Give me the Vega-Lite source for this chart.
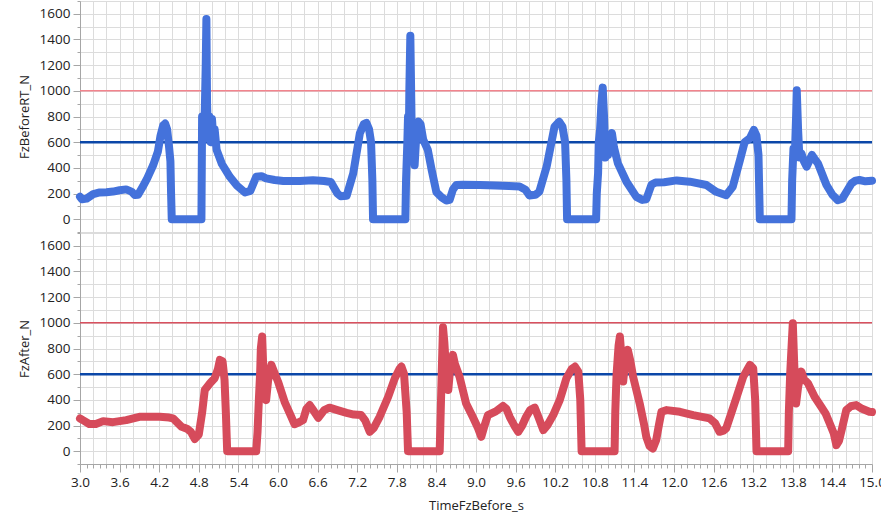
{
  "$schema": "https://vega.github.io/schema/vega-lite/v6.json",
  "padding": {"left": 18, "top": 0, "right": 0, "bottom": 3},
  "background": "white",
  "spacing": -1,
  "config": {
    "view": {"stroke": null},
    "font": "Open Sans",
    "axis": {
      "labelFont": "Open Sans",
      "labelFontSize": 13.5,
      "labelColor": "#222222",
      "titleFont": "Open Sans",
      "titleFontSize": 13,
      "titleFontWeight": "normal",
      "titleColor": "#222222",
      "gridColor": "#dcdcdc",
      "gridWidth": 1,
      "domainColor": "#a6a6a6",
      "tickColor": "#a6a6a6"
    },
    "axisY": {
      "format": "d",
      "labelExpr": "datum.value % 200 === 0 && datum.value >= 0 && datum.value <= 1600 ? datum.label : ''",
      "labelPadding": 3,
      "titlePadding": 6.5,
      "minExtent": 42,
      "maxExtent": 42,
      "labelOverlap": false,
      "labelFlush": false
    },
    "axisX": {
      "labelExpr": "round(datum.value*10) % 6 === 0 ? format(datum.value, '.1f') : ''",
      "labelPadding": 3,
      "titlePadding": 11,
      "labelOverlap": false,
      "labelFlush": false
    }
  },
  "datasets": {
    "before": [
      {"t": 3.00, "fz": 175}, {"t": 3.03, "fz": 155}, {"t": 3.10, "fz": 160}, {"t": 3.20, "fz": 195},
      {"t": 3.30, "fz": 208}, {"t": 3.40, "fz": 210}, {"t": 3.50, "fz": 215}, {"t": 3.60, "fz": 225},
      {"t": 3.70, "fz": 232}, {"t": 3.78, "fz": 215}, {"t": 3.83, "fz": 188}, {"t": 3.88, "fz": 190},
      {"t": 3.95, "fz": 252}, {"t": 4.02, "fz": 320}, {"t": 4.11, "fz": 422}, {"t": 4.18, "fz": 526},
      {"t": 4.22, "fz": 650}, {"t": 4.26, "fz": 730}, {"t": 4.29, "fz": 745}, {"t": 4.32, "fz": 700},
      {"t": 4.35, "fz": 560}, {"t": 4.37, "fz": 450}, {"t": 4.38, "fz": 200}, {"t": 4.39, "fz": 0},
      {"t": 4.84, "fz": 0}, {"t": 4.845, "fz": 400}, {"t": 4.85, "fz": 800}, {"t": 4.87, "fz": 620},
      {"t": 4.89, "fz": 820}, {"t": 4.905, "fz": 1200}, {"t": 4.915, "fz": 1560}, {"t": 4.925, "fz": 900},
      {"t": 4.94, "fz": 640}, {"t": 4.96, "fz": 800}, {"t": 4.98, "fz": 600}, {"t": 5.00, "fz": 780},
      {"t": 5.02, "fz": 620}, {"t": 5.04, "fz": 700}, {"t": 5.07, "fz": 540}, {"t": 5.15, "fz": 430},
      {"t": 5.27, "fz": 330}, {"t": 5.38, "fz": 260}, {"t": 5.50, "fz": 208}, {"t": 5.58, "fz": 220},
      {"t": 5.67, "fz": 330}, {"t": 5.75, "fz": 335}, {"t": 5.82, "fz": 318}, {"t": 5.95, "fz": 305},
      {"t": 6.08, "fz": 298}, {"t": 6.33, "fz": 298}, {"t": 6.53, "fz": 303}, {"t": 6.70, "fz": 298},
      {"t": 6.80, "fz": 290}, {"t": 6.90, "fz": 200}, {"t": 6.95, "fz": 178}, {"t": 7.04, "fz": 182},
      {"t": 7.14, "fz": 357}, {"t": 7.24, "fz": 669}, {"t": 7.30, "fz": 740}, {"t": 7.34, "fz": 750},
      {"t": 7.38, "fz": 700}, {"t": 7.41, "fz": 600}, {"t": 7.43, "fz": 300}, {"t": 7.44, "fz": 0},
      {"t": 7.93, "fz": 0}, {"t": 7.94, "fz": 300}, {"t": 7.96, "fz": 600}, {"t": 7.97, "fz": 800},
      {"t": 7.98, "fz": 500}, {"t": 7.99, "fz": 1000}, {"t": 8.005, "fz": 1430}, {"t": 8.02, "fz": 900},
      {"t": 8.03, "fz": 500}, {"t": 8.05, "fz": 600}, {"t": 8.07, "fz": 420}, {"t": 8.10, "fz": 700},
      {"t": 8.13, "fz": 760}, {"t": 8.16, "fz": 740}, {"t": 8.20, "fz": 620}, {"t": 8.27, "fz": 539},
      {"t": 8.33, "fz": 380}, {"t": 8.40, "fz": 210}, {"t": 8.48, "fz": 170}, {"t": 8.55, "fz": 145},
      {"t": 8.60, "fz": 150}, {"t": 8.65, "fz": 230}, {"t": 8.70, "fz": 266}, {"t": 8.80, "fz": 268},
      {"t": 9.06, "fz": 266}, {"t": 9.30, "fz": 262}, {"t": 9.50, "fz": 258}, {"t": 9.66, "fz": 255},
      {"t": 9.75, "fz": 230}, {"t": 9.81, "fz": 185}, {"t": 9.90, "fz": 190}, {"t": 9.96, "fz": 215},
      {"t": 10.07, "fz": 409}, {"t": 10.19, "fz": 721}, {"t": 10.26, "fz": 760}, {"t": 10.31, "fz": 720},
      {"t": 10.35, "fz": 600}, {"t": 10.37, "fz": 300}, {"t": 10.38, "fz": 0}, {"t": 10.82, "fz": 0},
      {"t": 10.83, "fz": 200}, {"t": 10.85, "fz": 360}, {"t": 10.86, "fz": 600}, {"t": 10.88, "fz": 700},
      {"t": 10.90, "fz": 900}, {"t": 10.92, "fz": 1025}, {"t": 10.94, "fz": 800}, {"t": 10.96, "fz": 480},
      {"t": 10.98, "fz": 650}, {"t": 11.00, "fz": 500}, {"t": 11.02, "fz": 600}, {"t": 11.06, "fz": 670},
      {"t": 11.09, "fz": 560}, {"t": 11.15, "fz": 435}, {"t": 11.28, "fz": 292}, {"t": 11.43, "fz": 174},
      {"t": 11.52, "fz": 150}, {"t": 11.58, "fz": 155}, {"t": 11.66, "fz": 270}, {"t": 11.72, "fz": 285},
      {"t": 11.85, "fz": 288}, {"t": 12.04, "fz": 302}, {"t": 12.24, "fz": 292}, {"t": 12.49, "fz": 266},
      {"t": 12.64, "fz": 213}, {"t": 12.79, "fz": 187}, {"t": 12.89, "fz": 252}, {"t": 13.00, "fz": 461},
      {"t": 13.07, "fz": 600}, {"t": 13.15, "fz": 630}, {"t": 13.21, "fz": 695}, {"t": 13.25, "fz": 650},
      {"t": 13.28, "fz": 500}, {"t": 13.30, "fz": 0}, {"t": 13.78, "fz": 0}, {"t": 13.79, "fz": 300},
      {"t": 13.81, "fz": 550}, {"t": 13.83, "fz": 480}, {"t": 13.85, "fz": 800}, {"t": 13.86, "fz": 1005},
      {"t": 13.88, "fz": 700}, {"t": 13.90, "fz": 480}, {"t": 13.93, "fz": 513}, {"t": 13.97, "fz": 450},
      {"t": 14.01, "fz": 409}, {"t": 14.09, "fz": 500}, {"t": 14.13, "fz": 470}, {"t": 14.18, "fz": 435},
      {"t": 14.31, "fz": 266}, {"t": 14.40, "fz": 190}, {"t": 14.48, "fz": 148}, {"t": 14.55, "fz": 160},
      {"t": 14.62, "fz": 220}, {"t": 14.69, "fz": 279}, {"t": 14.75, "fz": 300}, {"t": 14.81, "fz": 305},
      {"t": 14.90, "fz": 295}, {"t": 15.00, "fz": 300}
    ],
    "after": [
      {"t": 3.00, "fz": 255}, {"t": 3.05, "fz": 240}, {"t": 3.14, "fz": 212}, {"t": 3.24, "fz": 212},
      {"t": 3.35, "fz": 234}, {"t": 3.50, "fz": 226}, {"t": 3.70, "fz": 242}, {"t": 3.90, "fz": 268},
      {"t": 4.21, "fz": 268}, {"t": 4.35, "fz": 262}, {"t": 4.41, "fz": 255}, {"t": 4.54, "fz": 190},
      {"t": 4.62, "fz": 175}, {"t": 4.68, "fz": 150}, {"t": 4.74, "fz": 95}, {"t": 4.80, "fz": 130},
      {"t": 4.85, "fz": 300}, {"t": 4.89, "fz": 477}, {"t": 4.97, "fz": 529}, {"t": 5.04, "fz": 568},
      {"t": 5.09, "fz": 640}, {"t": 5.12, "fz": 711}, {"t": 5.16, "fz": 700}, {"t": 5.19, "fz": 555},
      {"t": 5.21, "fz": 300}, {"t": 5.23, "fz": 0}, {"t": 5.67, "fz": 0}, {"t": 5.69, "fz": 150},
      {"t": 5.71, "fz": 400}, {"t": 5.73, "fz": 620}, {"t": 5.74, "fz": 800}, {"t": 5.76, "fz": 893},
      {"t": 5.78, "fz": 600}, {"t": 5.80, "fz": 450}, {"t": 5.82, "fz": 398}, {"t": 5.85, "fz": 550},
      {"t": 5.90, "fz": 672}, {"t": 5.94, "fz": 620}, {"t": 6.00, "fz": 542}, {"t": 6.10, "fz": 385},
      {"t": 6.20, "fz": 270}, {"t": 6.25, "fz": 210}, {"t": 6.32, "fz": 225}, {"t": 6.38, "fz": 242},
      {"t": 6.43, "fz": 330}, {"t": 6.48, "fz": 359}, {"t": 6.52, "fz": 330}, {"t": 6.61, "fz": 260},
      {"t": 6.70, "fz": 320}, {"t": 6.78, "fz": 339}, {"t": 6.90, "fz": 320}, {"t": 7.04, "fz": 299},
      {"t": 7.15, "fz": 285}, {"t": 7.26, "fz": 281}, {"t": 7.32, "fz": 240}, {"t": 7.39, "fz": 151},
      {"t": 7.45, "fz": 180}, {"t": 7.54, "fz": 268}, {"t": 7.67, "fz": 424}, {"t": 7.77, "fz": 568},
      {"t": 7.84, "fz": 640}, {"t": 7.87, "fz": 659}, {"t": 7.91, "fz": 600}, {"t": 7.95, "fz": 300},
      {"t": 7.97, "fz": 0}, {"t": 8.45, "fz": 0}, {"t": 8.46, "fz": 200}, {"t": 8.48, "fz": 600},
      {"t": 8.50, "fz": 965}, {"t": 8.52, "fz": 850}, {"t": 8.55, "fz": 600}, {"t": 8.58, "fz": 477},
      {"t": 8.61, "fz": 650}, {"t": 8.65, "fz": 750}, {"t": 8.68, "fz": 680}, {"t": 8.75, "fz": 581},
      {"t": 8.85, "fz": 372}, {"t": 8.95, "fz": 268}, {"t": 9.03, "fz": 180}, {"t": 9.08, "fz": 112},
      {"t": 9.13, "fz": 200}, {"t": 9.18, "fz": 281}, {"t": 9.30, "fz": 310}, {"t": 9.41, "fz": 352},
      {"t": 9.46, "fz": 330}, {"t": 9.51, "fz": 268}, {"t": 9.58, "fz": 200}, {"t": 9.64, "fz": 151},
      {"t": 9.70, "fz": 200}, {"t": 9.76, "fz": 268}, {"t": 9.82, "fz": 320}, {"t": 9.89, "fz": 339},
      {"t": 9.95, "fz": 260}, {"t": 10.02, "fz": 164}, {"t": 10.08, "fz": 200}, {"t": 10.17, "fz": 281},
      {"t": 10.27, "fz": 400}, {"t": 10.37, "fz": 568}, {"t": 10.45, "fz": 640}, {"t": 10.50, "fz": 659},
      {"t": 10.55, "fz": 620}, {"t": 10.58, "fz": 400}, {"t": 10.60, "fz": 0}, {"t": 11.10, "fz": 0},
      {"t": 11.11, "fz": 300}, {"t": 11.13, "fz": 600}, {"t": 11.16, "fz": 820}, {"t": 11.18, "fz": 893},
      {"t": 11.21, "fz": 700}, {"t": 11.23, "fz": 542}, {"t": 11.26, "fz": 700}, {"t": 11.30, "fz": 789},
      {"t": 11.34, "fz": 700}, {"t": 11.38, "fz": 581}, {"t": 11.48, "fz": 372}, {"t": 11.55, "fz": 200},
      {"t": 11.58, "fz": 112}, {"t": 11.63, "fz": 40}, {"t": 11.68, "fz": 20}, {"t": 11.73, "fz": 86},
      {"t": 11.77, "fz": 200}, {"t": 11.81, "fz": 307}, {"t": 11.89, "fz": 320}, {"t": 12.09, "fz": 307},
      {"t": 12.29, "fz": 281}, {"t": 12.54, "fz": 255}, {"t": 12.62, "fz": 220}, {"t": 12.69, "fz": 151},
      {"t": 12.75, "fz": 160}, {"t": 12.79, "fz": 177}, {"t": 12.87, "fz": 300}, {"t": 12.95, "fz": 424},
      {"t": 13.05, "fz": 581}, {"t": 13.15, "fz": 672}, {"t": 13.20, "fz": 646}, {"t": 13.23, "fz": 400},
      {"t": 13.25, "fz": 0}, {"t": 13.73, "fz": 0}, {"t": 13.74, "fz": 300}, {"t": 13.76, "fz": 600},
      {"t": 13.78, "fz": 800}, {"t": 13.80, "fz": 997}, {"t": 13.82, "fz": 700}, {"t": 13.84, "fz": 450},
      {"t": 13.85, "fz": 372}, {"t": 13.88, "fz": 500}, {"t": 13.93, "fz": 620}, {"t": 13.97, "fz": 560},
      {"t": 14.03, "fz": 529}, {"t": 14.13, "fz": 424}, {"t": 14.23, "fz": 346}, {"t": 14.30, "fz": 290},
      {"t": 14.36, "fz": 216}, {"t": 14.42, "fz": 140}, {"t": 14.46, "fz": 47}, {"t": 14.50, "fz": 80},
      {"t": 14.54, "fz": 164}, {"t": 14.61, "fz": 320}, {"t": 14.68, "fz": 350}, {"t": 14.76, "fz": 359},
      {"t": 14.85, "fz": 330}, {"t": 14.96, "fz": 307}, {"t": 15.00, "fz": 305}
    ]
  },
  "vconcat": [
    {
      "width": 792,
      "height": 231,
      "encoding": {
        "x": {
          "field": "t", "type": "quantitative",
          "scale": {"domain": [3, 15], "nice": false, "zero": false},
          "axis": {
            "title": null, "labels": false, "ticks": false, "domain": false,
            "values": [3,3.2,3.4,3.6,3.8,4,4.2,4.4,4.6,4.8,5,5.2,5.4,5.6,5.8,6,6.2,6.4,6.6,6.8,7,7.2,7.4,7.6,7.8,8,8.2,8.4,8.6,8.8,9,9.2,9.4,9.6,9.8,10,10.2,10.4,10.6,10.8,11,11.2,11.4,11.6,11.8,12,12.2,12.4,12.6,12.8,13,13.2,13.4,13.6,13.8,14,14.2,14.4,14.6,14.8,15]
          }
        },
        "y": {
          "field": "fz", "type": "quantitative",
          "scale": {"domain": [-100, 1700], "nice": false},
          "axis": {
            "title": "FzBeforeRT_N",
            "values": [-100,0,100,200,300,400,500,600,700,800,900,1000,1100,1200,1300,1400,1500,1600,1700],
            "tickSize": {"condition": {"test": "datum.value % 200 === 0", "value": 7}, "value": 3},
            "labelFontSize": {"condition": {"test": "datum.value % 200 === 0 && datum.value >= 0 && datum.value <= 1600", "value": 13.5}, "value": 1}
          }
        }
      },
      "layer": [
        {
          "data": {"values": [{"level": 1000}]},
          "mark": {"type": "rule", "color": "#f2848d", "strokeWidth": 1.5},
          "encoding": {"x": null, "y": {"field": "level", "type": "quantitative", "title": "FzBeforeRT_N"}}
        },
        {
          "data": {"values": [{"level": 600}]},
          "mark": {"type": "rule", "color": "#0b47a8", "strokeWidth": 2.5},
          "encoding": {"x": null, "y": {"field": "level", "type": "quantitative", "title": "FzBeforeRT_N"}}
        },
        {
          "data": {"name": "before"},
          "mark": {"type": "line", "color": "#4472db", "strokeWidth": 8, "strokeCap": "round", "strokeJoin": "round"}
        }
      ]
    },
    {
      "width": 792,
      "height": 231,
      "encoding": {
        "x": {
          "field": "t", "type": "quantitative",
          "scale": {"domain": [3, 15], "nice": false, "zero": false},
          "axis": {
            "title": "TimeFzBefore_s",
            "values": [3,3.1,3.2,3.3,3.4,3.5,3.6,3.7,3.8,3.9,4,4.1,4.2,4.3,4.4,4.5,4.6,4.7,4.8,4.9,5,5.1,5.2,5.3,5.4,5.5,5.6,5.7,5.8,5.9,6,6.1,6.2,6.3,6.4,6.5,6.6,6.7,6.8,6.9,7,7.1,7.2,7.3,7.4,7.5,7.6,7.7,7.8,7.9,8,8.1,8.2,8.3,8.4,8.5,8.6,8.7,8.8,8.9,9,9.1,9.2,9.3,9.4,9.5,9.6,9.7,9.8,9.9,10,10.1,10.2,10.3,10.4,10.5,10.6,10.7,10.8,10.9,11,11.1,11.2,11.3,11.4,11.5,11.6,11.7,11.8,11.9,12,12.1,12.2,12.3,12.4,12.5,12.6,12.7,12.8,12.9,13,13.1,13.2,13.3,13.4,13.5,13.6,13.7,13.8,13.9,14,14.1,14.2,14.3,14.4,14.5,14.6,14.7,14.8,14.9,15],
            "tickSize": {"condition": {"test": "round(datum.value*10) % 6 === 0", "value": 8}, "value": 4},
            "gridColor": {"condition": {"test": "round(datum.value*10) % 2 === 0", "value": "#dcdcdc"}, "value": "rgba(0,0,0,0)"}
          }
        },
        "y": {
          "field": "fz", "type": "quantitative",
          "scale": {"domain": [-100, 1700], "nice": false},
          "axis": {
            "title": "FzAfter_N",
            "values": [-100,0,100,200,300,400,500,600,700,800,900,1000,1100,1200,1300,1400,1500,1600,1700],
            "tickSize": {"condition": {"test": "datum.value % 200 === 0", "value": 7}, "value": 3},
            "labelFontSize": {"condition": {"test": "datum.value % 200 === 0 && datum.value >= 0 && datum.value <= 1600", "value": 13.5}, "value": 1}
          }
        }
      },
      "layer": [
        {
          "data": {"values": [{"level": 1000}]},
          "mark": {"type": "rule", "color": "#d9515f", "strokeWidth": 1.5},
          "encoding": {"x": null, "y": {"field": "level", "type": "quantitative", "title": "FzAfter_N"}}
        },
        {
          "data": {"values": [{"level": 600}]},
          "mark": {"type": "rule", "color": "#0b47a8", "strokeWidth": 2.5},
          "encoding": {"x": null, "y": {"field": "level", "type": "quantitative", "title": "FzAfter_N"}}
        },
        {
          "data": {"name": "after"},
          "mark": {"type": "line", "color": "#d64b5b", "strokeWidth": 8, "strokeCap": "round", "strokeJoin": "round"}
        }
      ]
    }
  ]
}
